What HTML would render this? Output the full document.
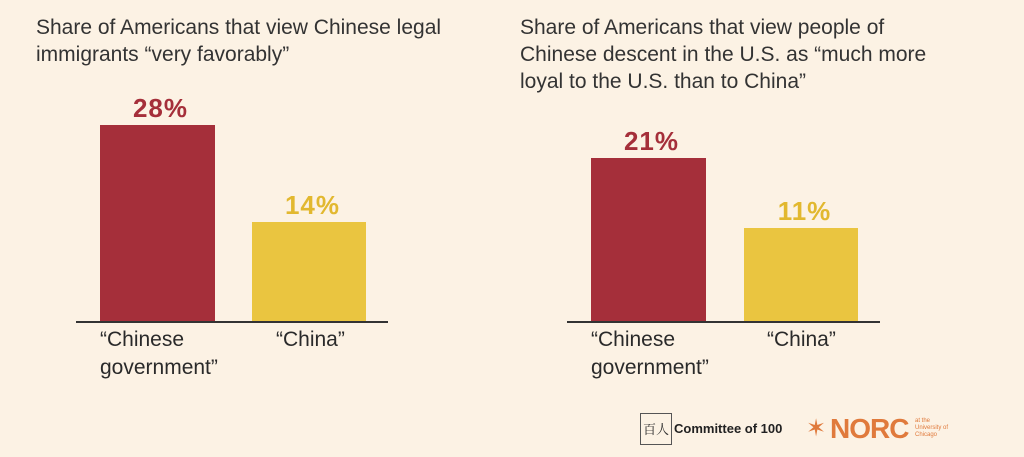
<!DOCTYPE html>
<html><head><style>
body{margin:0;width:1024px;height:457px;background:#fcf2e4;font-family:"Liberation Sans",sans-serif;position:relative;overflow:hidden;color:#2a2a2a}
.a{position:absolute}
.t{font-size:21px;line-height:27px;color:#333}
.v{font-size:26px;font-weight:bold;text-align:center;width:115px;letter-spacing:1px}
.l{font-size:21px;line-height:28px;color:#2a2a2a}
</style></head><body>
<div class="a t" style="left:36px;top:14px">Share of Americans that view Chinese legal<br>immigrants “very favorably”</div>
<div class="a t" style="left:520px;top:14px">Share of Americans that view people of<br>Chinese descent in the U.S. as “much more<br>loyal to the U.S. than to China”</div>

<div class="a" style="left:100px;top:125px;width:115px;height:197px;background:#a52f3a"></div>
<div class="a v" style="left:103px;top:93px;color:#a52f3a">28%</div>
<div class="a" style="left:252px;top:222px;width:114px;height:100px;background:#eac540"></div>
<div class="a v" style="left:255px;top:190px;color:#e2b82f">14%</div>
<div class="a" style="left:76px;top:321px;width:312px;height:2px;background:#333"></div>
<div class="a l" style="left:100px;top:326px">“Chinese<br>government”</div>
<div class="a l" style="left:276px;top:326px">“China”</div>

<div class="a" style="left:591px;top:158px;width:115px;height:164px;background:#a52f3a"></div>
<div class="a v" style="left:594px;top:126px;color:#a52f3a">21%</div>
<div class="a" style="left:744px;top:228px;width:114px;height:94px;background:#eac540"></div>
<div class="a v" style="left:747px;top:196px;color:#e2b82f">11%</div>
<div class="a" style="left:567px;top:321px;width:313px;height:2px;background:#333"></div>
<div class="a l" style="left:591px;top:326px">“Chinese<br>government”</div>
<div class="a l" style="left:767px;top:326px">“China”</div>

<div class="a" style="left:640px;top:413px;width:30px;height:30px;border:1px solid #555;font-family:'Noto Serif CJK SC',serif;font-size:13px;line-height:30px;text-align:center">百人</div>
<div class="a" style="left:674px;top:421px;font-size:13px;font-weight:bold;color:#222">Committee of 100</div>
<div class="a" style="left:806px;top:414px;font-size:24px;color:#e07a3c">✶</div>
<div class="a" style="left:830px;top:413px;font-size:28px;font-weight:bold;color:#e07a3c;letter-spacing:-1px">NORC</div>
<div class="a" style="left:915px;top:418px;font-size:6px;line-height:7px;color:#e07a3c">at the<br>University of<br>Chicago</div>
</body></html>
